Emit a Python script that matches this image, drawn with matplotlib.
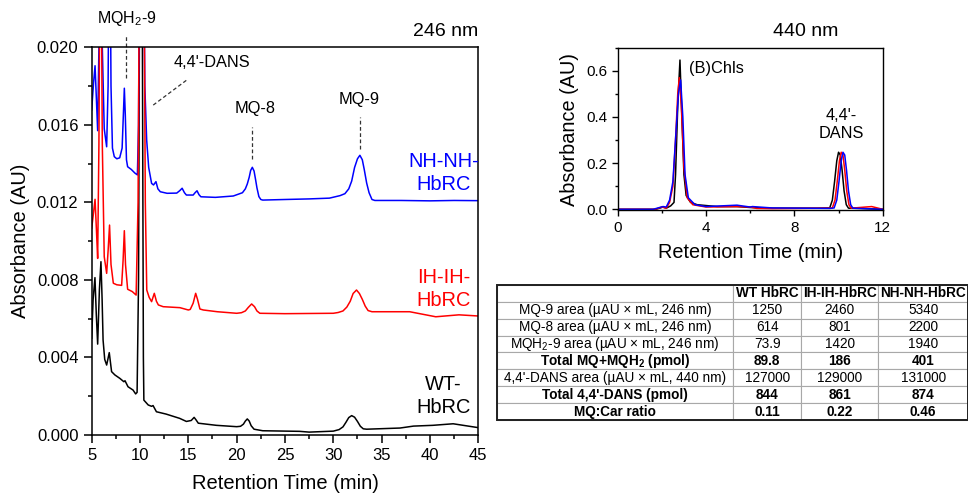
import matplotlib
matplotlib.use("Agg")
import matplotlib.pyplot as plt
from matplotlib.patches import Rectangle
from matplotlib.ticker import MultipleLocator

plt.rcParams['font.family'] = ['Liberation Sans', 'DejaVu Sans']
plt.rcParams['mathtext.fontset'] = 'custom'
plt.rcParams['mathtext.rm'] = 'Liberation Sans'
plt.rcParams['mathtext.bf'] = 'Liberation Sans:bold'
plt.rcParams['mathtext.it'] = 'Liberation Sans:italic'

# ---- 246 nm chromatograms (retention time in min, absorbance in AU) ----
t_wt = [5.0, 5.15, 5.34, 5.48, 5.62, 5.8, 5.96, 6.08, 6.18, 6.35, 6.55, 6.82, 7.06, 7.4,
        7.92, 8.33, 8.45, 8.76, 9.28, 9.55, 9.7, 9.85, 10.0, 10.1, 10.25, 10.35, 10.4,
        10.85, 11.2, 11.35, 11.7, 12.7, 14.1, 14.8, 15.3, 15.6, 15.8, 16.03, 17.9, 20.0,
        20.4, 20.7, 20.9, 21.1, 21.3, 21.5, 21.8, 22.7, 26.5, 27.5, 30.0, 30.6, 31.0,
        31.3, 31.6, 31.9, 32.2, 32.5, 32.8, 33.1, 33.45, 36.9, 38.3, 40.3, 42.4, 45.0]
a_wt = [0.00499, 0.0070, 0.00812, 0.0062, 0.00469, 0.0075, 0.00894, 0.0070, 0.0049,
        0.0039, 0.00361, 0.00425, 0.00327, 0.0031, 0.00292, 0.00275, 0.0028, 0.00249,
        0.00232, 0.00212, 0.0022, 0.008, 0.03, 0.04, 0.02, 0.004, 0.0018, 0.00155,
        0.00148, 0.00152, 0.0012, 0.00108, 0.00086, 0.0007, 0.00075, 0.00091, 0.00078,
        0.00061, 0.0005, 0.00043, 0.00045, 0.00056, 0.00072, 0.00083, 0.00072, 0.00048,
        0.0003, 0.00022, 0.00019, 0.00015, 0.0002, 0.00028, 0.00042, 0.00065, 0.0009,
        0.001, 0.00092, 0.0007, 0.00045, 0.00032, 0.0003, 0.00036, 0.00046, 0.0005,
        0.00058, 0.00038]

t_ih = [5.0, 5.2, 5.35, 5.5, 5.62, 5.75, 5.92, 6.1, 6.3, 6.55, 6.7, 6.85, 7.0, 7.24, 7.6,
        8.1, 8.25, 8.38, 8.5, 8.72, 9.2, 9.6, 9.8, 10.0, 10.15, 10.35, 10.55, 10.7,
        10.95, 11.2, 11.48, 11.7, 11.9, 12.4, 14.13, 15.0, 15.2, 15.5, 15.76, 15.95,
        16.2, 16.55, 18.0, 20.0, 20.5, 20.9, 21.2, 21.55, 21.85, 22.1, 22.4, 25.0, 30.0,
        30.5, 31.0, 31.4, 31.75, 32.05, 32.4, 32.7, 33.0, 33.3, 33.6, 34.0, 37.9, 40.6,
        43.0, 45.0]
a_ih = [0.01066, 0.0115, 0.01216, 0.0105, 0.00911, 0.015, 0.03, 0.015, 0.0092, 0.00834,
        0.0095, 0.01083, 0.0088, 0.00783, 0.00775, 0.00772, 0.009, 0.01054, 0.0088,
        0.00752, 0.0074, 0.00722, 0.012, 0.03, 0.04, 0.03, 0.012, 0.00748, 0.0071,
        0.00688, 0.00731, 0.0069, 0.00671, 0.00662, 0.00657, 0.00645, 0.00648, 0.0068,
        0.00731, 0.0070, 0.0065, 0.00645, 0.00636, 0.00628, 0.00631, 0.0064, 0.00658,
        0.00676, 0.00662, 0.0064, 0.00628, 0.00626, 0.00628, 0.00632, 0.0064, 0.0066,
        0.0069, 0.0073, 0.00748, 0.0073, 0.0070, 0.00665, 0.00642, 0.00636, 0.00636,
        0.0061, 0.0062, 0.00614]

t_nh = [5.0, 5.2, 5.35, 5.5, 5.62, 5.75, 5.92, 6.1, 6.3, 6.55, 6.7, 6.85, 7.0, 7.15,
        7.34, 7.6, 7.9, 8.15, 8.3, 8.38, 8.48, 8.6, 8.72, 9.1, 9.48, 9.73, 9.85, 10.0,
        10.1, 10.3, 10.5, 10.69, 10.9, 11.2, 11.4, 11.65, 11.85, 12.1, 12.8, 13.8, 14.1,
        14.36, 14.6, 14.8, 15.5, 15.7, 15.9, 16.1, 16.3, 17.8, 19.65, 20.6, 20.9, 21.1,
        21.3, 21.45, 21.62, 21.8, 21.95, 22.1, 22.3, 22.5, 22.7, 25.0, 27.5, 29.6, 30.7,
        31.2, 31.6, 31.9, 32.2, 32.5, 32.75, 33.0, 33.2, 33.45, 33.7, 34.0, 34.3, 37.0,
        40.0, 42.5, 45.0]
a_nh = [0.01677, 0.0182, 0.01905, 0.0172, 0.0157, 0.02, 0.03, 0.02, 0.0158, 0.01487,
        0.018, 0.03, 0.018, 0.0148, 0.01436, 0.01425, 0.0143, 0.0148, 0.0168, 0.01789,
        0.0165, 0.0142, 0.01384, 0.0137, 0.01351, 0.01342, 0.016, 0.03, 0.04, 0.03,
        0.018, 0.01522, 0.0138, 0.01298, 0.0129, 0.01307, 0.0127, 0.01255, 0.01247,
        0.01248, 0.0126, 0.01273, 0.0125, 0.01238, 0.01238, 0.0125, 0.0126, 0.0124,
        0.01229, 0.01226, 0.01233, 0.0125, 0.0127, 0.01295, 0.0133, 0.01365, 0.01381,
        0.01362, 0.0132, 0.01275, 0.0123, 0.01215, 0.01212, 0.01215, 0.01218, 0.01222,
        0.01235, 0.01245, 0.0127, 0.0131, 0.0138, 0.01425, 0.01443, 0.0142, 0.0137,
        0.0130, 0.0125, 0.01215, 0.0121, 0.0121, 0.01208, 0.0121, 0.01209]

# ---- 440 nm chromatograms ----
t440_wt = [0, 1.7, 1.9, 2.05, 2.2, 2.4, 2.55, 2.62, 2.72, 2.82, 2.9, 3.0, 3.1, 3.3, 3.6,
           4.5, 5.4, 6.0, 7.0, 9.0, 9.6, 9.72, 9.82, 9.92, 10.0, 10.08, 10.16, 10.25,
           10.35, 10.45, 11.0, 12.0]
a440_wt = [0, 0, 0.005, 0.01, 0.005, 0.015, 0.03, 0.15, 0.45, 0.646, 0.42, 0.15, 0.06,
           0.03, 0.02, 0.012, 0.012, 0.008, 0.005, 0.005, 0.006, 0.04, 0.12, 0.21, 0.247,
           0.235, 0.17, 0.08, 0.02, 0.005, 0.004, 0]
t440_ih = [0, 1.7, 2.0, 2.2, 2.35, 2.5, 2.62, 2.72, 2.79, 2.88, 3.0, 3.15, 3.4, 4.0, 5.4,
           6.0, 6.3, 7.0, 9.5, 9.72, 9.84, 9.94, 10.04, 10.12, 10.2, 10.28, 10.37,
           10.47, 10.57, 11.5, 11.8, 12.0]
a440_ih = [0, 0, 0.01, 0.005, 0.03, 0.1, 0.3, 0.5, 0.57, 0.45, 0.18, 0.05, 0.02, 0.01,
           0.012, 0.01, 0.004, 0.003, 0.005, 0.006, 0.04, 0.12, 0.21, 0.247, 0.235, 0.17,
           0.08, 0.02, 0.005, 0.012, 0.005, 0]
t440_nh = [0, 1.6, 2.05, 2.2, 2.35, 2.5, 2.65, 2.75, 2.85, 2.95, 3.05, 3.2, 3.5, 4.0, 5.4,
           6.0, 6.1, 7.0, 9.6, 9.8, 9.92, 10.02, 10.12, 10.2, 10.28, 10.36, 10.45, 10.55,
           10.65, 12.0]
a440_nh = [0, 0, 0.012, 0.01, 0.04, 0.12, 0.35, 0.5, 0.56, 0.4, 0.15, 0.05, 0.02, 0.012,
           0.018, 0.01, 0.012, 0.006, 0.004, 0.006, 0.04, 0.12, 0.21, 0.247, 0.235, 0.17,
           0.08, 0.02, 0.005, 0]

# peak retention times used for the leader lines (min)
peak_mqh2_9 = 8.52
peak_mq8 = 21.62
peak_mq9 = 32.75

# ---- pigment quantification table ----
col_labels = ['', 'WT HbRC', 'IH-IH-HbRC', 'NH-NH-HbRC']
row_labels = ['MQ-9 area (µAU × mL, 246 nm)',
              'MQ-8 area (µAU × mL, 246 nm)',
              'MQH$_2$-9 area (µAU × mL, 246 nm)',
              'Total MQ+MQH$_\\mathbf{2}$ (pmol)',
              "4,4'-DANS area (µAU × mL, 440 nm)",
              "Total 4,4'-DANS (pmol)",
              'MQ:Car ratio']
wt_vals = ['1250', '614', '73.9', '89.8', '127000', '844', '0.11']
ih_vals = ['2460', '801', '1420', '186', '129000', '861', '0.22']
nh_vals = ['5340', '2200', '1940', '401', '131000', '874', '0.46']
bold_rows = [3, 5, 6]

fig = plt.figure(figsize=(9.68, 4.94), dpi=100)

# left: 246 nm
ax = fig.add_axes([0.0947, 0.1194, 0.3994, 0.7848])
ax.plot(t_wt, a_wt, color='black', lw=1.1)
ax.plot(t_nh, a_nh, color='#0000ff', lw=1.1)
ax.plot(t_ih, a_ih, color='#ff0000', lw=1.1)
ax.set_xlim(5, 45)
ax.set_ylim(0, 0.020)
ax.xaxis.set_major_locator(MultipleLocator(5))
ax.xaxis.set_minor_locator(MultipleLocator(2.5))
ax.yaxis.set_major_locator(MultipleLocator(0.004))
ax.yaxis.set_minor_locator(MultipleLocator(0.002))
ax.yaxis.set_major_formatter(plt.FormatStrFormatter('%.3f'))
ax.tick_params(which='major', direction='out', length=6, width=1.1, labelsize=12)
ax.tick_params(which='minor', direction='out', length=3, width=1.1)
for s in ax.spines.values():
    s.set_linewidth(1.1)
ax.set_xlabel('Retention Time (min)', fontsize=14.5, labelpad=8)
ax.set_ylabel('Absorbance (AU)', fontsize=14.5, labelpad=5)

ax.text(45, 0.0208, '246 nm', ha='right', va='center', fontsize=14)
ax.text(41.4, 0.01352, 'NH-NH-\nHbRC', color='#0000ff', ha='center', va='center',
        fontsize=14.4, linespacing=1.3)
ax.text(41.4, 0.00753, 'IH-IH-\nHbRC', color='#ff0000', ha='center', va='center',
        fontsize=14.4, linespacing=1.3)
ax.text(41.4, 0.0020, 'WT-\nHbRC', color='black', ha='center', va='center',
        fontsize=14.4, linespacing=1.3)

dash = dict(color='#333333', lw=0.9, ls=(0, (3, 2)), clip_on=False)
ax.text(8.65, 0.02151, 'MQH$_2$-9', ha='center', va='center', fontsize=11.5, clip_on=False)
ax.plot([peak_mqh2_9, peak_mqh2_9], [0.01842, 0.02064], **dash)
ax.text(17.4, 0.01921, "4,4'-DANS", ha='center', va='center', fontsize=11.8)
ax.plot([11.37, 14.83], [0.01702, 0.01831], **dash)
ax.text(21.9, 0.01685, 'MQ-8', ha='center', va='center', fontsize=11.8)
ax.plot([peak_mq8, peak_mq8], [0.01422, 0.0159], **dash)
ax.text(32.7, 0.01733, 'MQ-9', ha='center', va='center', fontsize=11.8)
ax.plot([peak_mq9, peak_mq9], [0.01474, 0.01642], **dash)

# right: 440 nm
ax2 = fig.add_axes([0.6381, 0.5739, 0.2738, 0.3298])
ax2.plot(t440_wt, a440_wt, color='black', lw=1.1)
ax2.plot(t440_ih, a440_ih, color='#ff0000', lw=1.1)
ax2.plot(t440_nh, a440_nh, color='#0000ff', lw=1.1)
ax2.set_xlim(0, 12)
ax2.set_ylim(-0.005, 0.7)
ax2.xaxis.set_major_locator(MultipleLocator(4))
ax2.xaxis.set_minor_locator(MultipleLocator(2))
ax2.yaxis.set_major_locator(MultipleLocator(0.2))
ax2.yaxis.set_minor_locator(MultipleLocator(0.1))
ax2.yaxis.set_major_formatter(plt.FormatStrFormatter('%.1f'))
ax2.tick_params(which='major', direction='out', length=4, width=1.0, labelsize=11)
ax2.tick_params(which='minor', direction='out', length=2.2, width=1.0)
for s in ax2.spines.values():
    s.set_linewidth(1.0)
ax2.set_xlabel('Retention Time (min)', fontsize=14.3, labelpad=6)
ax2.set_ylabel('Absorbance (AU)', fontsize=14.3, labelpad=5)
ax2.text(8.5, 0.768, '440 nm', ha='center', va='center', fontsize=14, clip_on=False)
ax2.text(3.23, 0.61, '(B)Chls', ha='left', va='center', fontsize=11.8)
ax2.text(10.11, 0.367, "4,4'-\nDANS", ha='center', va='center', fontsize=11.8,
         linespacing=1.25)

# bottom right: table
axt = fig.add_axes([0.5131, 0.1498, 0.4869, 0.2733])
axt.axis('off')
cells = [[r, a, b, c] for r, a, b, c in zip(row_labels, wt_vals, ih_vals, nh_vals)]
tab = axt.table(cellText=cells, colLabels=col_labels, cellLoc='center',
                bbox=[0, 0, 1, 1], colWidths=[0.502, 0.1437, 0.164, 0.1903])
tab.auto_set_font_size(False)
for (r, c), cell in tab.get_celld().items():
    cell.set_edgecolor('#a8a8a8')
    cell.set_linewidth(0.8)
    txt = cell.get_text()
    txt.set_fontsize(9.8)
    txt.set_color('black')
    if r == 0 or (r - 1) in bold_rows:
        txt.set_fontweight('bold')
axt.add_patch(Rectangle((0, 0), 1, 1, transform=axt.transAxes, fill=False,
                        lw=1.4, ec='#202020', clip_on=False))

fig.savefig('out.png', dpi=100)
